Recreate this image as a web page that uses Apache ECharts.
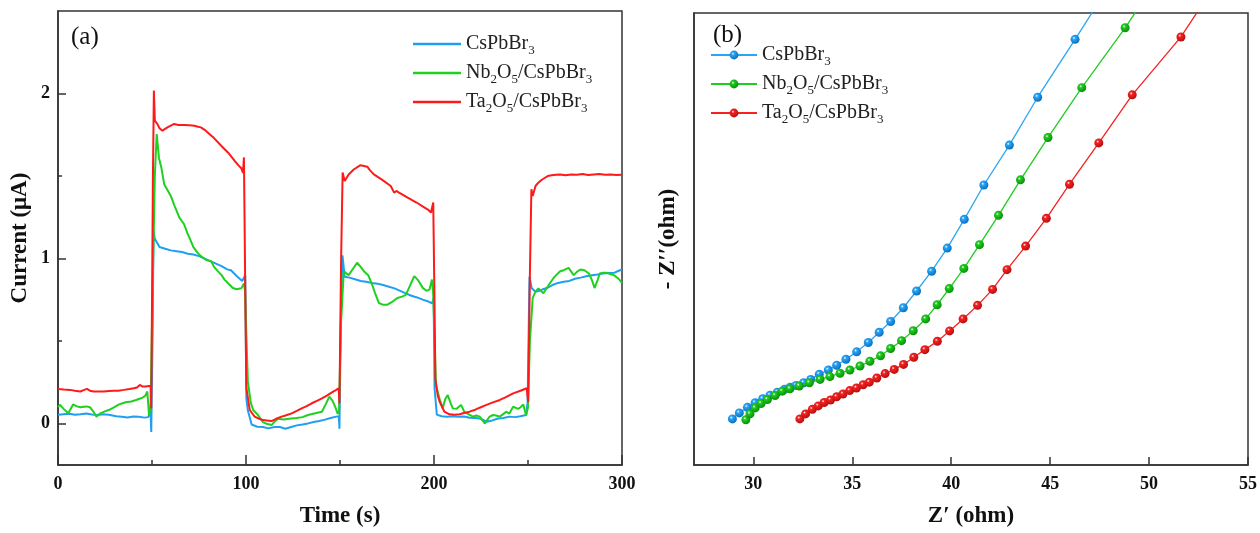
<!DOCTYPE html>
<html>
<head>
<meta charset="utf-8">
<script src="https://cdn.jsdelivr.net/npm/echarts@6/dist/echarts.min.js"></script>
<style>html,body{margin:0;padding:0;background:#fff}#c{width:1260px;height:533px}</style>
</head>
<body>
<div id="c"></div>
<script>
// ---------- Panel (a): transient photocurrent, [time (s), current (uA)] ----------
const cspbbr3Current = [[0,0.055],[3,0.058],[6,0.06],[9,0.055],[12,0.057],[15,0.062],[18,0.056],[21,0.053],[24,0.057],[27,0.054],[31,0.045],[34,0.042],[37,0.038],[40,0.044],[43,0.042],[46,0.037],[48,0.04],[49.2,0.08],[49.6,-0.05],[50.4,0.6],[50.8,1.17],[51.5,1.12],[54,1.07],[57,1.06],[60,1.05],[63,1.045],[66,1.04],[69,1.03],[72,1.025],[75,1.015],[78,1.0],[81,0.985],[84,0.97],[87,0.955],[90,0.935],[92,0.93],[95,0.895],[98,0.865],[99.6,0.9],[100.2,0.15],[101,0.08],[103,-0.005],[106,-0.018],[109,-0.02],[112,-0.028],[115,-0.02],[118,-0.02],[121,-0.03],[124,-0.02],[127,-0.01],[130,-0.005],[133,0.002],[136,0.01],[139,0.017],[142,0.025],[145,0.035],[148,0.043],[149.4,0.045],[149.7,-0.03],[150.4,0.6],[151.3,1.02],[152.5,0.89],[155,0.885],[158,0.875],[161,0.865],[164,0.86],[167,0.853],[170,0.848],[173,0.84],[176,0.83],[179,0.82],[182,0.805],[185,0.79],[188,0.775],[191,0.765],[194,0.752],[197,0.74],[199,0.73],[199.8,0.76],[200.3,0.215],[201.5,0.055],[204,0.045],[207,0.043],[210,0.045],[213,0.042],[216,0.044],[219,0.036],[222,0.034],[225,0.03],[228,0.012],[231,0.02],[234,0.032],[237,0.035],[240,0.043],[243,0.04],[246,0.045],[249,0.053],[249.8,0.13],[250.4,0.6],[250.8,0.89],[252,0.82],[254,0.8],[256,0.805],[258,0.815],[260,0.822],[263,0.84],[266,0.853],[269,0.86],[272,0.865],[275,0.878],[278,0.885],[281,0.893],[284,0.9],[287,0.904],[290,0.91],[293,0.913],[296,0.915],[298,0.925],[300,0.934]];

const nb2o5Current = [[0,0.1],[1,0.115],[3,0.09],[5.5,0.063],[8,0.117],[10,0.105],[12,0.1],[15,0.105],[17,0.1],[19,0.07],[20.5,0.043],[22.5,0.063],[25,0.075],[27,0.083],[30,0.1],[32.5,0.117],[36,0.13],[39,0.135],[41.5,0.144],[43,0.15],[45,0.158],[46.5,0.17],[47.5,0.195],[48.4,0.053],[49.2,0.1],[50.5,0.9],[51.5,1.5],[52.5,1.755],[53.7,1.61],[55,1.55],[56.5,1.45],[58,1.42],[60,1.38],[62,1.32],[64.5,1.25],[67,1.21],[69,1.15],[70.7,1.106],[72,1.07],[74.3,1.035],[76,1.015],[79,0.99],[81.4,0.985],[83,0.95],[85,0.924],[87,0.9],[88.6,0.873],[91,0.845],[93,0.822],[95,0.815],[97.5,0.82],[98.9,0.85],[99.5,0.8],[100.3,0.5],[101,0.255],[102.5,0.13],[103.8,0.083],[106.4,0.053],[109,0.01],[111,0.0],[113.6,-0.008],[115,0.01],[117,0.03],[120,0.025],[124,0.032],[127,0.035],[130,0.04],[133,0.053],[136.8,0.063],[140.4,0.073],[142.5,0.12],[144.3,0.164],[146,0.14],[147.5,0.1],[148.8,0.06],[149.5,0.08],[150.5,0.6],[152,0.924],[154.6,0.9],[157,0.94],[159.1,0.975],[161,0.95],[162.7,0.924],[165,0.9],[167.1,0.843],[169,0.78],[170.7,0.731],[173,0.72],[175.2,0.721],[178,0.74],[180.5,0.762],[183,0.77],[185,0.78],[187,0.83],[189.5,0.894],[191.5,0.87],[194,0.823],[196,0.805],[197.6,0.812],[198.9,0.873],[199.5,0.8],[200.4,0.5],[201,0.235],[203,0.15],[204.6,0.093],[206,0.15],[207.3,0.174],[209,0.12],[210,0.093],[212,0.09],[214.4,0.114],[216.2,0.07],[218,0.06],[220.7,0.043],[222.5,0.05],[224.3,0.043],[227,0.002],[229.6,0.043],[231.4,0.053],[233,0.05],[235,0.043],[238.6,0.073],[240,0.06],[242.1,0.103],[244.8,0.09],[246,0.1],[247.5,0.117],[249,0.05],[250,0.1],[251,0.5],[252.5,0.762],[254,0.8],[255.5,0.82],[258.2,0.79],[261,0.84],[263.6,0.883],[265,0.9],[267.1,0.924],[269,0.93],[271.6,0.944],[274.3,0.9],[276,0.92],[277.9,0.934],[280,0.93],[282.4,0.91],[284,0.87],[285.4,0.822],[287,0.87],[288.2,0.91],[290,0.915],[292.1,0.914],[294,0.905],[295.7,0.9],[298,0.88],[300,0.853]];

const ta2o5Current = [[0,0.211],[3,0.208],[6.4,0.205],[9,0.2],[11.8,0.195],[14,0.205],[15.4,0.211],[17,0.2],[19,0.195],[22,0.195],[24.4,0.195],[27,0.198],[29.7,0.2],[32,0.2],[35.1,0.205],[38,0.21],[40.3,0.215],[42,0.22],[43.5,0.235],[45,0.225],[46.6,0.225],[49.3,0.23],[49.6,0.093],[50.5,1.5],[51,2.018],[51.5,1.836],[52.9,1.815],[54,1.79],[55.5,1.775],[58.2,1.795],[61.8,1.816],[64,1.81],[67.1,1.81],[70,1.808],[72.5,1.805],[74,1.8],[75,1.81],[76,1.795],[78,1.78],[80.5,1.755],[83,1.73],[86.8,1.684],[90.4,1.643],[93.9,1.593],[96,1.565],[97.5,1.548],[98.4,1.52],[98.9,1.613],[99.8,0.6],[100.2,0.215],[102,0.083],[104.6,0.043],[107,0.03],[109.1,0.022],[111,0.02],[113.6,0.016],[116,0.03],[118.9,0.043],[121,0.05],[124.3,0.063],[127,0.078],[129.6,0.093],[132,0.105],[135,0.124],[138,0.14],[140.4,0.154],[143,0.17],[145.7,0.19],[148,0.205],[149.3,0.215],[149.7,0.123],[150.6,1.0],[151.4,1.522],[152.5,1.47],[154.6,1.51],[157.3,1.54],[160.9,1.566],[164.5,1.557],[166,1.535],[168,1.51],[172.5,1.477],[177,1.44],[178,1.43],[178.8,1.40],[180,1.41],[181.4,1.40],[186,1.37],[190.7,1.34],[194.8,1.31],[197,1.295],[198.4,1.28],[199.6,1.34],[200.2,0.8],[200.7,0.275],[202,0.17],[202.9,0.136],[205.5,0.073],[208.2,0.057],[211,0.055],[213.6,0.057],[216,0.065],[218.9,0.073],[222,0.085],[224.3,0.097],[227.9,0.114],[231,0.128],[235,0.144],[238,0.16],[242.1,0.184],[246,0.2],[249.3,0.215],[250.1,0.13],[251,0.9],[251.8,1.42],[252.5,1.38],[254,1.44],[255.5,1.46],[257,1.475],[259,1.49],[260.5,1.5],[262.6,1.505],[265,1.508],[267.1,1.51],[270,1.505],[273,1.51],[276,1.508],[279,1.512],[282,1.506],[285,1.51],[288,1.513],[291,1.508],[294,1.51],[297,1.507],[300,1.508]];

// ---------- Panel (b): Nyquist plot, [Z' (ohm), -Z'' (ohm)] ----------
const cspbbr3Eis = [[28.94,2.31],[29.29,2.61],[29.70,2.89],[30.09,3.12],[30.47,3.32],[30.84,3.50],[31.21,3.65],[31.57,3.79],[31.85,3.89],[32.16,3.99],[32.54,4.12],[32.90,4.29],[33.33,4.55],[33.79,4.76],[34.21,5.00],[34.68,5.30],[35.22,5.67],[35.81,6.14],[36.36,6.65],[36.94,7.19],[37.58,7.88],[38.25,8.72],[39.01,9.71],[39.80,10.87],[40.66,12.31],[41.65,14.03],[42.94,16.03],[44.37,18.43],[46.26,21.33],[48.3,24.5]];
const nb2o5Eis = [[29.62,2.27],[29.83,2.56],[30.09,2.86],[30.39,3.08],[30.71,3.28],[31.10,3.48],[31.46,3.70],[31.85,3.82],[32.32,3.96],[32.83,4.12],[33.37,4.29],[33.87,4.43],[34.38,4.60],[34.88,4.76],[35.39,4.96],[35.89,5.20],[36.43,5.47],[36.94,5.84],[37.49,6.23],[38.08,6.73],[38.71,7.32],[39.29,8.03],[39.90,8.84],[40.64,9.85],[41.43,11.04],[42.39,12.51],[43.50,14.29],[44.89,16.41],[46.60,18.91],[48.79,21.91],[50.4,24.3]];
const ta2o5Eis = [[32.35,2.31],[32.64,2.56],[32.98,2.79],[33.28,2.96],[33.58,3.13],[33.90,3.26],[34.21,3.42],[34.53,3.56],[34.87,3.73],[35.21,3.86],[35.55,4.02],[35.86,4.15],[36.24,4.36],[36.66,4.58],[37.12,4.79],[37.59,5.04],[38.11,5.40],[38.67,5.78],[39.30,6.20],[39.92,6.72],[40.60,7.32],[41.33,8.00],[42.09,8.80],[42.82,9.79],[43.76,10.97],[44.81,12.36],[45.98,14.07],[47.46,16.14],[49.15,18.55],[51.61,21.45],[53.3,24.0]];

// ---------- Labels ----------
const seriesNamesA = ['CsPbBr3', 'Nb2O5/CsPbBr3', 'Ta2O5/CsPbBr3'];
const seriesNamesB = ['CsPbBr3 (EIS)', 'Nb2O5/CsPbBr3 (EIS)', 'Ta2O5/CsPbBr3 (EIS)'];
const legendRich = ['{m|CsPbBr}{s|3}', '{m|Nb}{s|2}{m|O}{s|5}{m|/CsPbBr}{s|3}', '{m|Ta}{s|2}{m|O}{s|5}{m|/CsPbBr}{s|3}'];
const timeTickLabels = [0, 100, 200, 300];
const currentTickLabels = [0, 1, 2];
const currentMinorTicks = [0.5, 1.5];
const zRealTickLabels = [30, 35, 40, 45, 50, 55];

const colorsA = ['#1e9ff2', '#1fd11f', '#ff1a1a'];
const colorsB = ['#2aa6f5', '#20cc20', '#f52222'];
const darkB = ['#0a6fc0', '#0a8f0a', '#b80f0f'];

const FONT = 'Liberation Serif';
const chart = echarts.init(document.getElementById('c'), null, {renderer: 'canvas'});

const nameToRich = {};
seriesNamesA.forEach((n, i) => nameToRich[n] = legendRich[i]);
seriesNamesB.forEach((n, i) => nameToRich[n] = legendRich[i]);

const legendText = {
  fontFamily: FONT, fontSize: 20, color: '#222',
  rich: {
    m: {fontFamily: FONT, fontSize: 20, color: '#222', lineHeight: 26, verticalAlign: 'middle'},
    s: {fontFamily: FONT, fontSize: 13, color: '#222', lineHeight: 26, verticalAlign: 'bottom'}
  }
};

const axisLineStyle = {show: true, onZero: false, lineStyle: {color: '#333', width: 1.5}};
const tickLabelStyle = {fontFamily: FONT, fontWeight: 'bold', fontSize: 18, color: '#111'};
const axisNameStyle = {fontFamily: FONT, fontWeight: 'bold', fontSize: 23, color: '#111'};

function ball(i) {
  return new echarts.graphic.RadialGradient(0.38, 0.35, 0.65, [
    {offset: 0, color: '#ffffff'},
    {offset: 0.25, color: colorsB[i]},
    {offset: 1, color: darkB[i]}
  ]);
}

const seriesA = [cspbbr3Current, nb2o5Current, ta2o5Current].map((d, i) => ({
  name: seriesNamesA[i], type: 'line', xAxisIndex: 0, yAxisIndex: 0,
  data: d, symbol: 'none', showSymbol: false,
  lineStyle: {color: colorsA[i], width: 2}, itemStyle: {color: colorsA[i]}, z: 3 + i
}));
const seriesB = [cspbbr3Eis, nb2o5Eis, ta2o5Eis].map((d, i) => ({
  name: seriesNamesB[i], type: 'line', xAxisIndex: 1, yAxisIndex: 2,
  data: d, symbol: 'circle', symbolSize: 9, clip: true,
  lineStyle: {color: colorsB[i], width: 1.3},
  itemStyle: {color: ball(i), borderWidth: 0}, z: 3 + i
}));

const option = {
  animation: false,
  backgroundColor: '#fff',
  title: [
    {text: '(a)', left: 66, top: 20, textStyle: {fontFamily: FONT, fontWeight: 'normal', fontSize: 25, color: '#111'}},
    {text: '(b)', left: 708, top: 18, textStyle: {fontFamily: FONT, fontWeight: 'normal', fontSize: 25, color: '#111'}}
  ],
  legend: [
    {data: seriesNamesA.map(n => ({name: n, icon: 'rect'})), left: 408, top: 29, orient: 'vertical',
     itemWidth: 48, itemHeight: 2.5, itemGap: 6,
     formatter: n => nameToRich[n], textStyle: legendText},
    {data: seriesNamesB, left: 705, top: 40, orient: 'vertical', itemWidth: 46, itemHeight: 11, itemGap: 6,
     formatter: n => nameToRich[n], textStyle: legendText}
  ],
  grid: [
    {left: 58, right: 638, top: 11, bottom: 67, show: true, borderColor: '#333', borderWidth: 1.5},
    {left: 694, right: 6, top: 13, bottom: 67, show: true, borderColor: '#333', borderWidth: 1.5}
  ],
  xAxis: [
    {gridIndex: 0, type: 'value', min: 0, max: 300, interval: 100,
     axisLine: axisLineStyle,
     axisTick: {show: true, inside: true, length: 10, lineStyle: {color: '#333', width: 1.5}},
     minorTick: {show: true, splitNumber: 2, length: 5, lineStyle: {color: '#333', width: 1.5}},
     axisLabel: {show: true, margin: 10, customValues: timeTickLabels, ...tickLabelStyle},
     splitLine: {show: false},
     name: 'Time (s)', nameLocation: 'middle', nameGap: 40, nameTextStyle: axisNameStyle},
    {gridIndex: 1, type: 'value', min: 27, max: 55,
     axisLine: axisLineStyle,
     axisTick: {show: true, inside: true, length: 8, customValues: zRealTickLabels, lineStyle: {color: '#333', width: 1.5}},
     axisLabel: {show: true, margin: 10, customValues: zRealTickLabels, ...tickLabelStyle},
     splitLine: {show: false},
     name: 'Z\u2032 (ohm)', nameLocation: 'middle', nameGap: 40, nameTextStyle: axisNameStyle}
  ],
  yAxis: [
    {gridIndex: 0, type: 'value', min: -0.25, max: 2.5, position: 'left',
     axisLine: axisLineStyle,
     axisTick: {show: true, inside: true, length: 8, customValues: currentTickLabels, lineStyle: {color: '#333', width: 1.5}},
     axisLabel: {show: true, margin: 8, customValues: currentTickLabels, ...tickLabelStyle},
     splitLine: {show: false},
     name: 'Current (\u03bcA)', nameLocation: 'middle', nameGap: 26, nameTextStyle: axisNameStyle},
    {gridIndex: 0, type: 'value', min: -0.25, max: 2.5, position: 'left', offset: 0,
     axisLine: {show: false, onZero: false},
     axisTick: {show: true, inside: true, length: 4, customValues: currentMinorTicks, lineStyle: {color: '#333', width: 1.5}},
     axisLabel: {show: false}, splitLine: {show: false}},
    {gridIndex: 1, type: 'value', min: 0, max: 22.65, position: 'left',
     axisLine: axisLineStyle,
     axisTick: {show: false}, axisLabel: {show: false}, splitLine: {show: false},
     name: '- Z\u2032\u2032(ohm)', nameLocation: 'middle', nameGap: 14, nameTextStyle: axisNameStyle}
  ],
  series: [...seriesA, ...seriesB]
};
chart.setOption(option);
</script>
</body>
</html>
